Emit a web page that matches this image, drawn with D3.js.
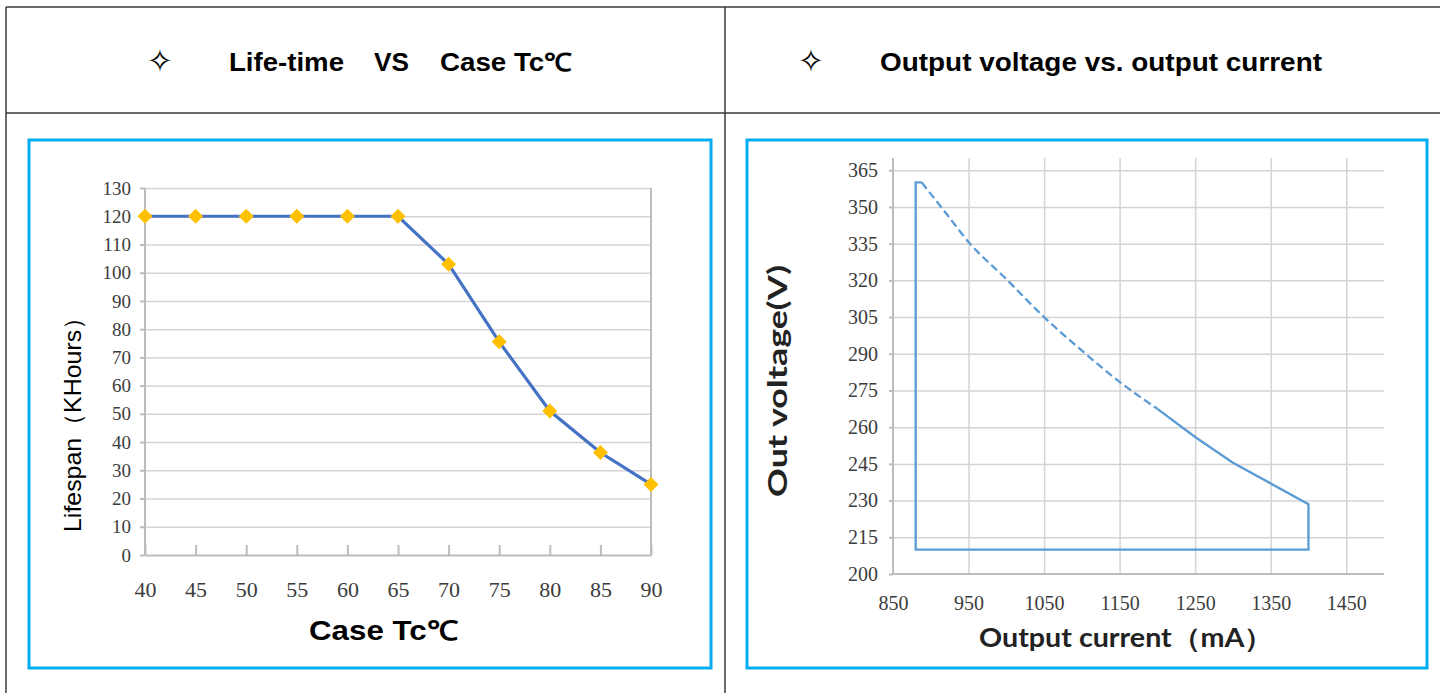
<!DOCTYPE html>
<meta charset="utf-8">
<style>
body { margin: 0; background: #fff; }
svg { display: block; }
.frame { fill: none; stroke: #00aeef; stroke-width: 3; }
.table line { stroke: #3a3a3a; stroke-width: 1.5; }
.head { font: bold 25px "Liberation Sans", Arial; fill: #000; }
.star { font: 32px "DejaVu Sans"; fill: #000; }
.grid line { stroke: #d4d4d4; stroke-width: 1.5; }
.grid path { display: none; }
.axis path, .axis line { stroke: #bcbcbc; stroke-width: 2; fill: none; }
.axis text { font-family: "Liberation Serif", serif; fill: #3c3c3c; }
</style>
<body>
<svg id="chart" width="1440" height="693"></svg>
<script src="https://d3js.org/d3.v7.min.js"></script>
<script>

// left chart data: lifetime vs case temperature
var caseTemps = [40, 45, 50, 55, 60, 65, 70, 75, 80, 85, 90];
var lifeKHours = [120, 120, 120, 120, 120, 120, 103, 75.5, 51, 36.3, 25];
var lifeTicks = [0, 10, 20, 30, 40, 50, 60, 70, 80, 90, 100, 110, 120, 130];

// right chart data: output voltage vs output current
var dashCurrent = [888, 920, 950, 1000, 1050, 1100, 1150, 1200];
var dashVoltage = [360, 347.5, 335.7, 320.5, 305, 291.3, 278.5, 267.5];
var solidCurrent = [1200, 1250, 1300, 1400, 1400, 880, 880, 888];
var solidVoltage = [267.5, 256, 245.5, 228.5, 210, 210, 360, 360];
var currentTicks = [850, 950, 1050, 1150, 1250, 1350, 1450];
var voltageTicks = [200, 215, 230, 245, 260, 275, 290, 305, 320, 335, 350, 365];

var svg = d3.select("#chart");

// table lines
var table = svg.append("g").attr("class", "table");
table.append("line").attr("x1", 6).attr("x2", 1440).attr("y1", 7).attr("y2", 7);
table.append("line").attr("x1", 6).attr("x2", 1440).attr("y1", 113).attr("y2", 113);
table.append("line").attr("x1", 6).attr("x2", 6).attr("y1", 7).attr("y2", 693);
table.append("line").attr("x1", 725).attr("x2", 725).attr("y1", 7).attr("y2", 693);

// header titles
svg.append("text").attr("class", "star").attr("x", 160).attr("y", 72).attr("text-anchor", "middle").text("\u2727");
svg.append("text").attr("class", "star").attr("x", 811).attr("y", 72).attr("text-anchor", "middle").text("\u2727");
svg.append("text").attr("class", "head").attr("x", 229).attr("y", 71)
  .attr("textLength", 115).attr("lengthAdjust", "spacingAndGlyphs").text("Life-time");
svg.append("text").attr("class", "head").attr("x", 374).attr("y", 71)
  .attr("textLength", 35).attr("lengthAdjust", "spacingAndGlyphs").text("VS");
svg.append("text").attr("class", "head").attr("x", 440).attr("y", 71)
  .attr("textLength", 132).attr("lengthAdjust", "spacingAndGlyphs").text("Case Tc\u2103");
svg.append("text").attr("class", "head").attr("x", 880).attr("y", 71)
  .attr("textLength", 442).attr("lengthAdjust", "spacingAndGlyphs").text("Output voltage vs. output current");

// blue frames
svg.append("rect").attr("class", "frame").attr("x", 29).attr("y", 140).attr("width", 682).attr("height", 528);
svg.append("rect").attr("class", "frame").attr("x", 747).attr("y", 140).attr("width", 680).attr("height", 528);

/* ---------- left chart ---------- */
var x1 = d3.scaleLinear().domain([40, 90]).range([145, 651]);
var y1 = d3.scaleLinear().domain([0, 130]).range([555, 188]);

svg.append("g").attr("class", "grid")
  .attr("transform", "translate(145,0)")
  .call(d3.axisLeft(y1).tickValues(lifeTicks.slice(1)).tickSize(-(651 - 145)).tickFormat(""));

var ly = svg.append("g").attr("class", "axis")
  .attr("transform", "translate(145,0)")
  .call(d3.axisLeft(y1).tickValues(lifeTicks).tickSize(5).tickSizeOuter(0).tickPadding(9));
ly.selectAll("text").style("font-size", "19px");
ly.select(".domain").attr("d", "M0," + y1(0) + "V" + y1(130));

var lx = svg.append("g").attr("class", "axis")
  .attr("transform", "translate(0,555)")
  .call(d3.axisBottom(x1).tickValues(caseTemps).tickSize(-10).tickSizeOuter(0).tickPadding(26));
lx.selectAll("text").style("font-size", "22px");

// right border of the plot
svg.append("line").attr("x1", 651).attr("x2", 651).attr("y1", y1(130)).attr("y2", y1(0))
  .style("stroke", "#bcbcbc").style("stroke-width", 2);

var lifeData = caseTemps.map((t, i) => [t, lifeKHours[i]]);
svg.append("path").datum(lifeData)
  .attr("d", d3.line().x(d => x1(d[0])).y(d => y1(d[1])))
  .style("fill", "none").style("stroke", "#4472c4").style("stroke-width", 3.2);

svg.selectAll(".mark").data(lifeData).enter().append("path")
  .attr("class", "mark")
  .attr("d", d3.symbol(d3.symbolSquare, 112))
  .attr("transform", d => "translate(" + x1(d[0]) + "," + y1(d[1]) + ") rotate(45)")
  .style("fill", "#ffc000");

svg.append("text").attr("x", 309).attr("y", 640)
  .attr("textLength", 149).attr("lengthAdjust", "spacingAndGlyphs")
  .style("font", "bold 27px 'Liberation Sans', Arial")
  .text("Case Tc\u2103");

svg.append("text").attr("transform", "translate(81,532) rotate(-90)")
  .attr("textLength", 227).attr("lengthAdjust", "spacingAndGlyphs")
  .style("font", "24px 'Liberation Sans', Arial")
  .text("Lifespan\uff08KHours\uff09");

/* ---------- right chart ---------- */
var x2 = d3.scaleLinear().domain([850, 1500]).range([893, 1384]);
var y2 = d3.scaleLinear().domain([200, 370]).range([574, 158]);

svg.append("g").attr("class", "grid")
  .attr("transform", "translate(893,0)")
  .call(d3.axisLeft(y2).tickValues(voltageTicks.slice(1)).tickSize(-(1384 - 893)).tickFormat(""));
svg.append("g").attr("class", "grid")
  .attr("transform", "translate(0,574)")
  .call(d3.axisBottom(x2).tickValues(currentTicks.slice(1)).tickSize(-(574 - 158)).tickFormat(""));

var ry = svg.append("g").attr("class", "axis")
  .attr("transform", "translate(893,0)")
  .call(d3.axisLeft(y2).tickValues(voltageTicks).tickSize(4).tickSizeOuter(0).tickPadding(11));
ry.selectAll("text").style("font-size", "20px");
ry.select(".domain").attr("d", "M0,574V158");

var rx = svg.append("g").attr("class", "axis")
  .attr("transform", "translate(0,574)")
  .call(d3.axisBottom(x2).tickValues(currentTicks).tickFormat(d3.format("d")).tickSize(0).tickPadding(22));
rx.selectAll("text").style("font-size", "20px");
rx.select(".domain").attr("d", "M893,0H1384");

var vline = d3.line().x(d => x2(d[0])).y(d => y2(d[1]));
svg.append("path").datum(solidCurrent.map((c, i) => [c, solidVoltage[i]]))
  .attr("d", vline)
  .style("fill", "none").style("stroke", "#5b9bd5").style("stroke-width", 2.3);
svg.append("path").datum(dashCurrent.map((c, i) => [c, dashVoltage[i]]))
  .attr("d", vline.curve(d3.curveMonotoneX))
  .style("fill", "none").style("stroke", "#5b9bd5").style("stroke-width", 2.3)
  .style("stroke-dasharray", "8,4");

svg.append("text").attr("x", 979).attr("y", 647)
  .attr("textLength", 294).attr("lengthAdjust", "spacingAndGlyphs")
  .style("font", "bold 26px Lato, 'Open Sans', sans-serif").style("fill", "#222")
  .text("Output current\uff08mA\uff09");

svg.append("text").attr("transform", "translate(787,497) rotate(-90)")
  .attr("textLength", 232).attr("lengthAdjust", "spacingAndGlyphs")
  .style("font", "bold 26px Lato, 'Open Sans', sans-serif").style("fill", "#222")
  .text("Out voltage(V)");

</script>
</body>
